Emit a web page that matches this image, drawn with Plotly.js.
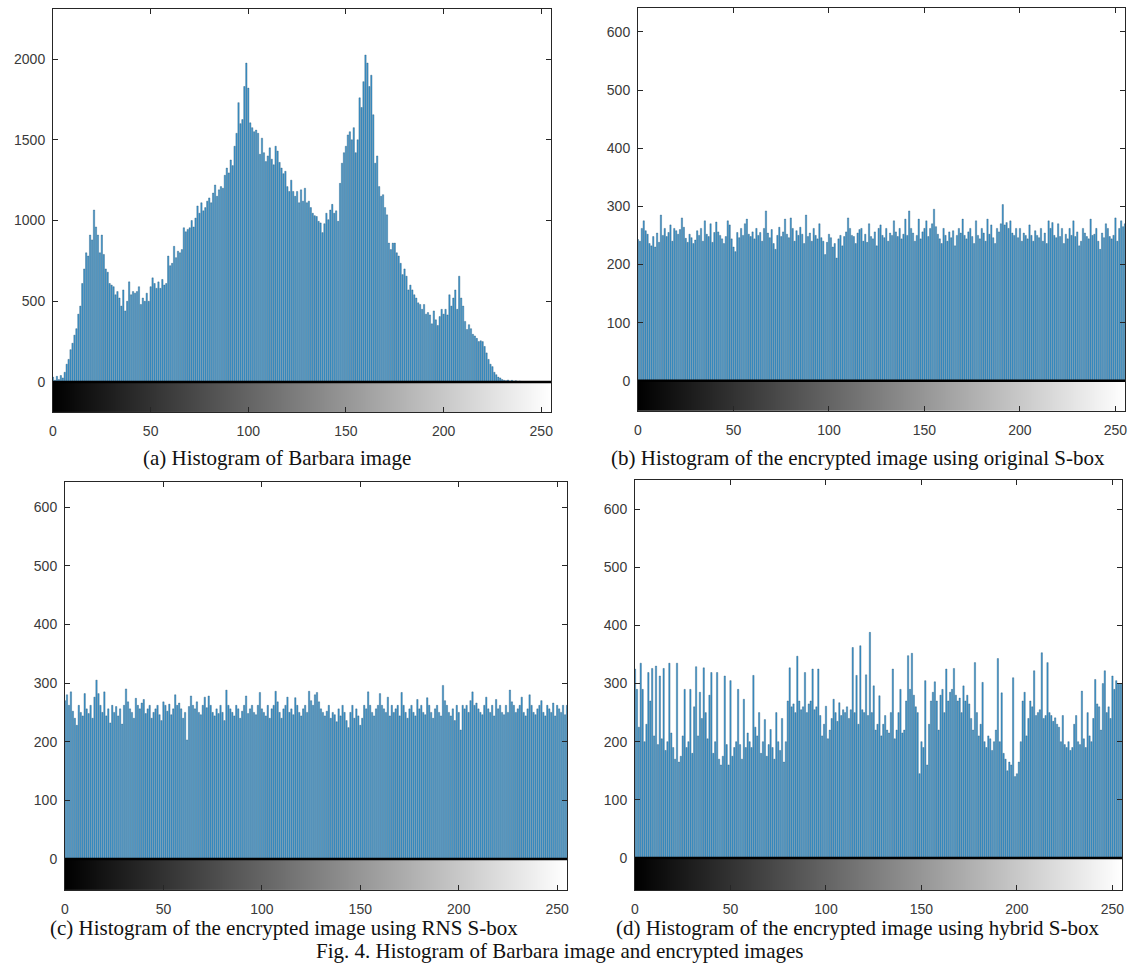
<!DOCTYPE html>
<html><head><meta charset="utf-8">
<script src="https://cdn.plot.ly/plotly-3.0.1.min.js"></script>
<style>html,body{margin:0;padding:0;background:#fff}#chart{width:1132px;height:969px}</style>
</head><body><div id="chart"></div>
<script>
// intensity levels 0..255 (histogram bins)
const levels = Array.from({length:256}, (_, i) => i);

// (a) Barbara image histogram (counts per level)
const barbara = [
 30,10,35,15,40,25,60,110,140,200,240,290,330,420,470,610,
 700,800,780,910,880,1065,960,910,800,910,790,700,680,610,600,590,
 540,560,520,470,570,440,500,620,540,560,550,560,590,480,520,500,
 550,500,590,645,610,580,620,580,635,600,610,780,720,735,840,770,
 810,800,820,955,930,945,955,1000,960,1015,1090,1045,1110,1060,1080,1120,
 1140,1110,1170,1220,1150,1190,1210,1200,1280,1325,1295,1375,1340,1460,1540,1730,
 1600,1625,1830,1975,1820,1605,1575,1550,1560,1540,1410,1510,1420,1365,1400,1450,
 1380,1345,1460,1430,1360,1325,1290,1305,1210,1180,1250,1180,1150,1180,1110,1190,
 1120,1200,1110,1120,1080,1045,1030,1025,995,985,925,980,1045,1005,1065,1100,
 1045,1060,995,1230,1355,1420,1460,1530,1550,1500,1575,1420,1500,1760,1700,1860,
 2025,1975,1830,1900,1655,1355,1400,1210,1150,1160,1080,1035,860,820,860,860,
 800,780,735,665,700,655,570,600,570,540,520,490,480,450,480,420,
 430,415,360,440,385,350,405,450,420,450,415,540,470,520,570,450,
 655,520,470,375,325,355,330,295,285,270,250,255,250,220,180,140,
 110,95,60,45,30,25,15,10,8,12,6,10,5,8,4,6,
 3,2,0,2,0,0,0,0,0,0,0,0,0,0,0,0
];

// (b) encrypted image, original S-box
const origSbox = [
 243,240,262,275,258,252,236,232,248,230,254,238,285,250,262,248,
 255,268,240,262,258,252,260,280,264,245,238,252,246,236,242,258,
 250,262,240,275,252,248,270,238,255,273,256,250,244,236,248,275,
 268,244,230,222,255,246,262,250,270,278,252,248,256,244,262,250,
 255,240,262,292,254,246,260,236,226,250,264,248,256,278,252,246,
 280,262,240,258,250,264,252,236,285,248,254,240,262,250,244,270,
 246,240,217,238,252,246,230,236,211,244,250,232,248,256,280,262,
 250,248,236,254,260,262,240,252,238,270,248,244,256,232,262,268,
 250,246,262,240,254,250,275,256,248,262,244,252,278,250,292,262,
 254,240,250,278,244,256,262,275,248,262,270,295,265,252,244,236,
 262,250,240,256,246,258,232,250,262,254,278,250,244,256,262,248,
 236,275,250,244,262,254,240,278,252,268,246,236,262,256,270,303,
 268,272,262,275,254,250,262,246,262,240,254,250,244,268,250,240,
 258,250,246,262,240,254,236,275,262,272,250,246,270,248,262,236,
 252,244,262,250,275,248,256,232,240,262,254,248,244,278,250,252,
 262,240,226,254,246,270,262,248,244,250,280,240,262,275,265,270
];

// (c) encrypted image, RNS S-box
const rnsSbox = [
 270,280,262,285,252,240,228,262,250,244,282,256,248,262,240,276,
 305,282,262,250,285,244,256,232,262,250,260,244,256,230,262,290,
 268,256,250,240,274,262,256,266,272,248,256,262,240,250,256,262,
 246,236,268,262,252,264,246,256,280,262,266,256,240,250,203,260,
 278,262,256,268,250,246,262,276,258,278,262,250,244,256,248,262,
 250,236,288,262,256,250,244,262,256,240,252,262,278,248,256,262,
 250,246,262,284,256,250,244,262,240,256,262,286,268,250,240,256,
 262,276,250,256,246,275,262,250,244,256,262,250,286,270,262,280,
 284,268,256,250,244,252,262,240,250,246,234,256,244,262,250,236,
 224,250,262,240,256,244,228,240,262,256,285,262,250,244,256,262,
 282,262,256,250,276,244,262,250,256,262,244,284,262,250,240,256,
 262,250,244,272,256,262,250,246,275,262,250,240,256,262,250,244,
 296,270,262,250,244,256,236,262,250,220,262,256,262,250,270,285,
 262,266,256,250,246,262,276,256,250,262,244,272,256,262,250,246,
 262,250,288,268,262,250,256,262,276,250,244,256,280,262,250,246,
 256,262,270,250,244,262,256,250,266,244,262,256,250,262,246,262
];

// (d) encrypted image, hybrid S-box
const hybridSbox = [
 325,290,225,335,290,200,230,319,270,326,210,330,195,313,205,326,
 185,200,335,215,190,170,335,165,175,210,290,190,200,290,180,260,
 329,210,285,240,327,250,205,280,319,180,200,319,170,160,175,313,
 195,160,305,175,190,200,290,195,170,273,190,215,200,190,314,225,
 210,250,180,200,238,175,195,221,190,170,250,200,185,240,165,200,
 270,327,260,265,250,347,270,255,260,319,250,265,270,325,255,260,
 325,245,210,230,261,205,220,240,273,250,235,267,245,255,250,260,
 240,255,362,250,314,230,365,255,250,315,245,388,250,296,220,230,
 279,210,230,245,220,215,250,325,205,220,250,290,215,220,270,348,
 290,352,280,260,250,145,200,190,305,160,230,270,285,303,270,220,
 280,290,250,325,270,285,290,326,280,270,275,250,296,270,280,265,
 240,220,336,250,210,230,302,200,190,210,205,185,200,220,343,200,
 284,180,170,150,165,160,310,140,145,165,200,270,285,210,240,270,
 260,322,245,250,255,353,240,245,336,250,245,235,241,230,225,200,
 245,195,190,200,185,190,230,245,200,195,287,205,190,250,210,200,
 240,307,265,260,220,300,322,250,260,240,313,290,305,300,299,300
];

const xTicks = [0, 50, 100, 150, 200, 250];
const captions = [
  "(a) Histogram of Barbara image",
  "(b) Histogram of the encrypted image using original S-box",
  "(c) Histogram of the encrypted image using RNS S-box",
  "(d) Histogram of the encrypted image using hybrid S-box"
];
const figCaption = "Fig. 4. Histogram of Barbara image and encrypted images";

const W = 1132, H = 969;
// panel boxes in pixels: left, right, top, bottom ; y range ; y tick step
const panels = [
  {data: barbara,    l: 53,  r: 551,  t: 9,   b: 412, yr: [-186, 2310], dt: 500, cx: 277, cy: 458},
  {data: origSbox,   l: 638, r: 1125, t: 8,   b: 411, yr: [-52, 641],   dt: 100, cx: 858, cy: 458},
  {data: rnsSbox,    l: 65,  r: 567,  t: 482, b: 890, yr: [-53, 643],   dt: 100, cx: 284, cy: 928},
  {data: hybridSbox, l: 635, r: 1122, t: 480, b: 890, yr: [-55, 650],   dt: 100, cx: 858, cy: 928}
];

const traces = [];
const layout = {
  width: W, height: H, margin: {l: 0, r: 0, t: 0, b: 0},
  paper_bgcolor: '#fff', plot_bgcolor: '#fff',
  showlegend: false, bargap: 0.3,
  font: {family: 'Liberation Sans, Arial, sans-serif', size: 14, color: '#3a3a3a'},
  shapes: [], annotations: []
};

panels.forEach((p, k) => {
  const n = k === 0 ? '' : String(k + 1);
  const xa = 'x' + n, ya = 'y' + n;
  // gray colorbar strip below zero
  traces.push({
    type: 'heatmap', xaxis: xa, yaxis: ya,
    x: levels, y: [p.yr[0], 0], z: [levels],
    colorscale: [[0, '#000000'], [1, '#ffffff']], zmin: 0, zmax: 255,
    showscale: false, hoverinfo: 'skip'
  });
  traces.push({
    type: 'bar', xaxis: xa, yaxis: ya, x: levels, y: p.data,
    marker: {color: '#3f9ad3', line: {color: '#1d4c6b', width: 0.35}},
    hoverinfo: 'x+y'
  });
  const axCommon = {
    showline: true, linecolor: '#262626', linewidth: 1, mirror: 'ticks',
    ticks: 'inside', ticklen: 5, tickcolor: '#262626', showgrid: false, zeroline: false,
    tickfont: {family: 'Liberation Sans, Arial, sans-serif', size: 14, color: '#3a3a3a'}
  };
  layout['xaxis' + n] = Object.assign({}, axCommon, {
    domain: [p.l / W, p.r / W], range: [0, 255], anchor: ya,
    tickvals: xTicks, ticktext: xTicks.map(String), ticklabelstandoff: 6
  });
  layout['yaxis' + n] = Object.assign({}, axCommon, {
    domain: [1 - p.b / H, 1 - p.t / H], range: p.yr, anchor: xa,
    tick0: 0, dtick: p.dt, ticklabelstandoff: 4
  });
  layout.shapes.push({
    type: 'line', xref: xa, yref: ya, x0: 0, x1: 255, y0: 0, y1: 0,
    line: {color: '#000', width: 2.5}, layer: 'above'
  });
  layout.annotations.push({
    text: captions[k], xref: 'paper', yref: 'paper',
    x: p.cx / W, y: 1 - p.cy / H, xanchor: 'center', yanchor: 'middle', showarrow: false,
    font: {family: 'Liberation Serif, Times New Roman, serif', size: 21, color: '#111'}
  });
});
layout.annotations.push({
  text: figCaption, xref: 'paper', yref: 'paper',
  x: 560 / W, y: 1 - 951 / H, xanchor: 'center', yanchor: 'middle', showarrow: false,
  font: {family: 'Liberation Serif, Times New Roman, serif', size: 21, color: '#111'}
});

Plotly.newPlot('chart', traces, layout, {staticPlot: true, displayModeBar: false});
</script>
</body></html>
